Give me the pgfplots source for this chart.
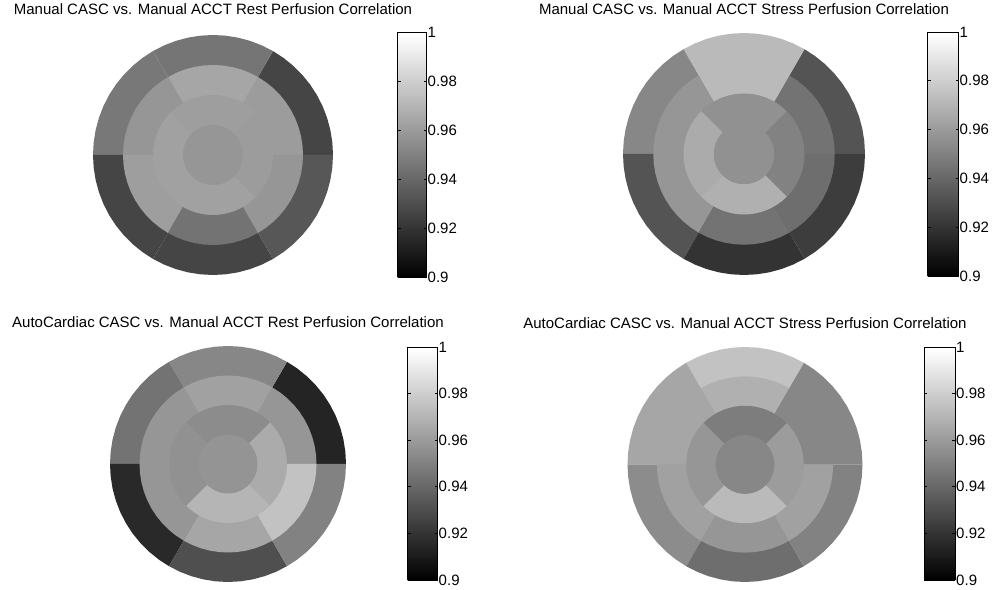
\documentclass[border=0pt]{standalone}
\usepackage{pgfplots}
\usepackage{pgfplotstable}
\pgfplotsset{compat=1.18}
\usepackage{fontspec}
\setmainfont{Liberation Sans}

% a1 a2 : angles of the segment, r : outer radius of the wedge, v : correlation
\pgfplotstableread{
a1 a2 r v
0 60 4 0.927
60 120 4 0.946
120 180 4 0.947
180 240 4 0.927
240 300 4 0.927
300 360 4 0.934
0 60 3 0.961
60 120 3 0.965
120 180 3 0.959
180 240 3 0.962
240 300 3 0.945
300 360 3 0.959
-45 45 2 0.961
45 135 2 0.962
135 225 2 0.963
225 315 2 0.963
0 360 1 0.959
}\tableA
\pgfplotstableread{
a1 a2 r v
0 60 4 0.933
60 120 4 0.973
120 180 4 0.953
180 240 4 0.933
240 300 4 0.920
300 360 4 0.924
0 60 3 0.945
60 120 3 0.973
120 180 3 0.959
180 240 3 0.959
240 300 3 0.945
300 360 3 0.943
-45 45 2 0.951
45 135 2 0.957
135 225 2 0.967
225 315 2 0.969
0 360 1 0.957
}\tableB
\pgfplotstableread{
a1 a2 r v
0 60 4 0.914
60 120 4 0.953
120 180 4 0.945
180 240 4 0.916
240 300 4 0.931
300 360 4 0.951
0 60 3 0.959
60 120 3 0.963
120 180 3 0.959
180 240 3 0.959
240 300 3 0.965
300 360 3 0.976
-45 45 2 0.967
45 135 2 0.955
135 225 2 0.957
225 315 2 0.971
0 360 1 0.958
}\tableC
\pgfplotstableread{
a1 a2 r v
0 60 4 0.953
60 120 4 0.976
120 180 4 0.965
180 240 4 0.955
240 300 4 0.943
300 360 4 0.951
0 60 3 0.953
60 120 3 0.969
120 180 3 0.965
180 240 3 0.963
240 300 3 0.959
300 360 3 0.963
-45 45 2 0.961
45 135 2 0.949
135 225 2 0.959
225 315 2 0.973
0 360 1 0.953
}\tableD

\newcommand{\bullseye}[1]{%
  \pgfplotstablegetrowsof{#1}%
  \pgfmathtruncatemacro\nlast{\pgfplotsretval-1}%
  \pgfplotsforeachungrouped \i in {0,...,\nlast}{%
    \pgfplotstablegetelem{\i}{a1}\of#1\let\aA\pgfplotsretval
    \pgfplotstablegetelem{\i}{a2}\of#1\let\aB\pgfplotsretval
    \pgfplotstablegetelem{\i}{r}\of#1\let\rr\pgfplotsretval
    \pgfplotstablegetelem{\i}{v}\of#1\let\vv\pgfplotsretval
    \pgfmathsetmacro\g{(\vv-0.9)/0.1}%
    \pgfmathtruncatemacro\N{(\aB-\aA)/6+1}%
    \pgfmathtruncatemacro\S{\N+1}%
    \edef\temp{\noexpand\addplot[draw=none, fill={rgb,1:red,\g;green,\g;blue,\g}, domain=0:\N, samples=\S]
      ({ifthenelse(x<0.5,0,\rr*cos(\aA+(x-1)*(\aB-\aA)/(\N-1)))},
       {ifthenelse(x<0.5,0,\rr*sin(\aA+(x-1)*(\aB-\aA)/(\N-1)))});}%
    \temp
  }%
}

\pgfplotsset{
  bull/.style n args={5}{% 1: diameter, 2: cb xshift, 3: cb height, 4: cb width, 5: cb yshift
    scale only axis, width=#1, height=#1, anchor=center,
    xmin=-4, xmax=4, ymin=-4, ymax=4, hide axis, clip=false,
    title style={font=\fontsize{15}{18}\selectfont, at={(0.5,1)}, anchor=base},
    colorbar sampled, colormap/blackwhite, point meta min=0.9, point meta max=1,
    colorbar style={at={(parent axis.east)}, anchor=west, xshift=#2, yshift=#5,
      samples=121,
      scale only axis, width=#4, height=#3,
      ytick={0.9,0.92,0.94,0.96,0.98,1},
      yticklabels={0.9,0.92,0.94,0.96,0.98,1},
      tick align=inside, ytick pos=both, yticklabel pos=right,
      major tick length=3pt, tick style={black, line width=0.6pt},
      axis line style={black, line width=0.7pt},
      yticklabel style={font=\fontsize{15}{18}\selectfont, inner sep=1pt},
    },
  },
}

\begin{document}
\begin{tikzpicture}
\useasboundingbox (0,0) rectangle (998pt,589pt);
\begin{axis}[bull={240pt}{56pt}{245pt}{29pt}{0pt}, at={(213pt,434pt)},
  title={Manual CASC vs. Manual ACCT Rest Perfusion Correlation},
  title style={yshift=14pt}]
\bullseye{\tableA}
\end{axis}
\begin{axis}[bull={242pt}{54pt}{244pt}{31pt}{0pt}, at={(744pt,435pt)},
  title={Manual CASC vs. Manual ACCT Stress Perfusion Correlation},
  title style={yshift=12pt}]
\bullseye{\tableB}
\end{axis}
\begin{axis}[bull={236pt}{53pt}{233pt}{30pt}{0.5pt}, at={(228pt,125pt)},
  title={AutoCardiac CASC vs. Manual ACCT Rest Perfusion Correlation},
  title style={yshift=12pt}]
\bullseye{\tableC}
\end{axis}
\begin{axis}[bull={235pt}{53pt}{233pt}{31pt}{1pt}, at={(745pt,124.5pt)},
  title={AutoCardiac CASC vs. Manual ACCT Stress Perfusion Correlation},
  title style={yshift=12pt}]
\bullseye{\tableD}
\end{axis}
\end{tikzpicture}
\end{document}
